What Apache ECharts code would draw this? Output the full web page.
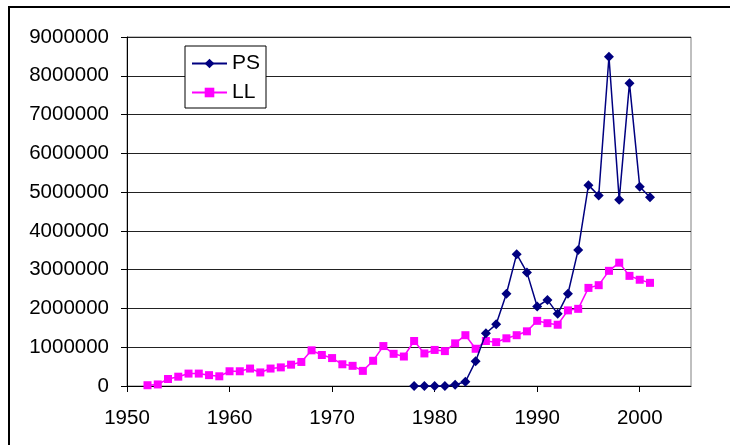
<!DOCTYPE html>
<html>
<head>
<meta charset="utf-8">
<script src="https://cdn.jsdelivr.net/npm/echarts@6/dist/echarts.min.js"></script>
<style>
  html, body { margin: 0; padding: 0; background: #fff; }
  #chart { width: 730px; height: 445px; }
</style>
</head>
<body>
<div id="chart"></div>
<script>
// PS series, 1978-2001
const psYears = [1978, 1979, 1980, 1981, 1982, 1983, 1984, 1985, 1986, 1987, 1988, 1989,
  1990, 1991, 1992, 1993, 1994, 1995, 1996, 1997, 1998, 1999, 2000, 2001]
const psValues = [0, 0, 0, 0, 30000, 110000, 640000, 1360000, 1590000, 2380000, 3400000, 2930000,
  2050000, 2220000, 1860000, 2380000, 3510000, 5180000, 4910000, 8490000, 4800000, 7810000, 5140000, 4870000]

// LL series, 1952-2001
const llYears = [1952, 1953, 1954, 1955, 1956, 1957, 1958, 1959, 1960, 1961, 1962, 1963, 1964,
  1965, 1966, 1967, 1968, 1969, 1970, 1971, 1972, 1973, 1974, 1975, 1976, 1977, 1978, 1979,
  1980, 1981, 1982, 1983, 1984, 1985, 1986, 1987, 1988, 1989, 1990, 1991, 1992, 1993, 1994,
  1995, 1996, 1997, 1998, 1999, 2000, 2001]
const llValues = [20000, 40000, 180000, 240000, 320000, 320000, 280000, 250000, 380000, 380000,
  450000, 350000, 450000, 480000, 550000, 620000, 920000, 800000, 720000, 560000, 520000, 390000,
  650000, 1030000, 830000, 760000, 1160000, 840000, 930000, 900000, 1100000, 1310000, 960000,
  1160000, 1130000, 1230000, 1310000, 1410000, 1680000, 1620000, 1580000, 1950000, 1990000,
  2530000, 2600000, 2970000, 3180000, 2840000, 2740000, 2660000]

const xTicks = [1950, 1960, 1970, 1980, 1990, 2000]

const font = 'Liberation Sans, Arial, sans-serif'
const chart = echarts.init(document.getElementById('chart'))

chart.setOption({
  animation: false,
  textStyle: { fontFamily: font },
  grid: {
    left: 127, right: 39, top: 37, bottom: 59,
    show: true, borderColor: '#808080', borderWidth: 1
  },
  graphic: [{
    type: 'rect',
    shape: { x: 9, y: 7, width: 760, height: 480 },
    style: { fill: 'none', stroke: '#000', lineWidth: 2 },
    silent: true
  }],
  legend: {
    left: 185, top: 46,
    orient: 'vertical',
    backgroundColor: '#fff',
    borderColor: '#000', borderWidth: 1, borderRadius: 0,
    padding: [7, 6, 5, 6],
    itemWidth: 35, itemHeight: 12, itemGap: 8,
    textStyle: { fontSize: 21, color: '#000', fontFamily: font },
    data: ['PS', 'LL']
  },
  xAxis: {
    type: 'value',
    min: 1950, max: 2005, interval: 10,
    axisLine: { lineStyle: { color: '#000', width: 1 } },
    axisTick: { show: true, length: 6, lineStyle: { color: '#000' }, customValues: xTicks },
    axisLabel: {
      color: '#000', fontSize: 20.5, margin: 22, fontFamily: font,
      customValues: xTicks, formatter: v => String(v)
    },
    splitLine: { show: false }
  },
  yAxis: {
    type: 'value',
    min: 0, max: 9000000, interval: 1000000,
    axisLine: { show: true, lineStyle: { color: '#000', width: 1 } },
    axisTick: { show: true, length: 6, lineStyle: { color: '#000' } },
    axisLabel: { color: '#000', fontSize: 20.5, margin: 18, fontFamily: font, formatter: v => String(v) },
    splitLine: { show: true, lineStyle: { color: '#222', width: 1 } }
  },
  series: [
    {
      name: 'PS',
      type: 'line',
      data: psYears.map((y, i) => [y, psValues[i]]),
      symbol: 'diamond', symbolSize: 10,
      lineStyle: { color: '#000080', width: 1.5 },
      itemStyle: { color: '#000080' },
      z: 3
    },
    {
      name: 'LL',
      type: 'line',
      data: llYears.map((y, i) => [y, llValues[i]]),
      symbol: 'rect', symbolSize: 8,
      lineStyle: { color: '#ff00ff', width: 1.5 },
      itemStyle: { color: '#ff00ff' },
      z: 2
    }
  ]
})
</script>
</body>
</html>
